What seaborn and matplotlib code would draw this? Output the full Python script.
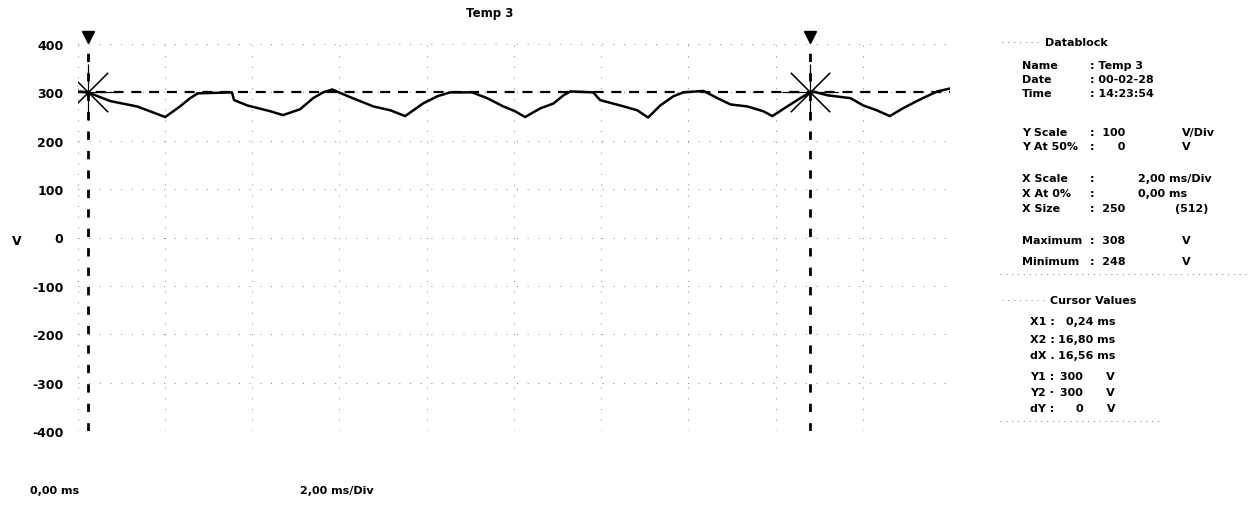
import numpy as np
import matplotlib.pyplot as plt
import pandas as pd
import seaborn as sns

# trace vertices (time in ms, voltage in V)
t_ms = [0.00, 0.24, 0.75, 1.36, 1.66, 2.01, 2.35, 2.58, 2.76, 3.54, 3.59, 3.89, 4.42, 4.71,
        5.10, 5.40, 5.63, 5.84, 6.20, 6.78, 7.17, 7.51, 7.92, 8.25, 8.54, 9.05, 9.39, 9.76,
        10.03, 10.26, 10.61, 10.91, 11.14, 11.30, 11.82, 11.98, 12.44, 12.83, 13.08, 13.36,
        13.66, 13.89, 14.35, 14.67, 14.97, 15.35, 15.72, 15.93, 16.27, 16.64, 16.85, 17.19,
        17.72, 18.01, 18.32, 18.62, 18.92, 19.24, 19.47, 19.71, 20.00]
volts = [302, 300, 282, 271, 261, 249, 271, 288, 298, 300, 284, 273, 261, 253,
         265, 288, 300, 306, 292, 271, 263, 251, 277, 292, 300, 300, 288, 271,
         261, 249, 267, 277, 294, 302, 300, 284, 273, 263, 248, 273,
         292, 300, 303, 288, 275, 271, 261, 251, 271, 292, 302, 294,
         288, 273, 263, 251, 267, 282, 292, 302, 308]

cursor_x = [0.24, 16.80]
cursor_y = 300
y_ticks = [400, 300, 200, 100, 0, -100, -200, -300, -400]
x_grid = list(range(0, 21, 2))

info_rows = [("Name", ": Temp 3", ""), ("Date", ": 00-02-28", ""), ("Time", ": 14:23:54", ""),
             ("Y Scale", ":  100", "V/Div"), ("Y At 50%", ":      0", "V"),
             ("X Scale", ":", "2,00 ms/Div"), ("X At 0%", ":", "0,00 ms"),
             ("X Size", ":  250", "(512)"),
             ("Maximum", ":  308", "V"), ("Minimum", ":  248", "V")]
cursor_rows = [("X1 :", "0,24 ms"), ("X2 :", "16,80 ms"), ("dX .", "16,56 ms"),
               ("Y1 :", "300      V"), ("Y2 ·", "300      V"), ("dY :", "0      V")]

sns.set_style("white")
plt.rcParams['font.family'] = ['DejaVu Sans']
plt.rcParams['text.color'] = 'black'
plt.rcParams['ytick.color'] = 'black'

W, H = 1248, 510
fig = plt.figure(figsize=(W / 100, H / 100), dpi=100)
ax = fig.add_axes([77.5 / W, 1 - 432 / H, (950 - 77.5) / W, (432 - 45) / H])

df = pd.DataFrame({"t": t_ms, "v": volts})
sns.lineplot(data=df, x="t", y="v", ax=ax, color="black", lw=1.8, sort=False)

ax.set_xlim(0, 20)
ax.set_ylim(-400, 400)
ax.set_xticks(x_grid)
ax.set_yticks(y_ticks)
ax.set_yticklabels([str(v) for v in y_ticks], fontweight="bold", fontsize=9)
ax.tick_params(axis="x", labelbottom=False, length=0)
ax.tick_params(axis="y", length=0, pad=10)
ax.set_xlabel("")
ax.set_ylabel("")
ax.grid(True, color="0.5", lw=0.7, ls=(0, (1, 10)))
for s in ax.spines.values():
    s.set_visible(False)

# cursors
for cx in cursor_x:
    ax.axvline(cx, color="black", lw=2, ls=(0, (3, 4)))
ax.axhline(cursor_y, color="black", lw=1.6, ls=(0, (4.5, 3.5)))
ax.plot(cursor_x, [cursor_y] * 2, ls="none", marker=(8, 2, 0), ms=40, mew=0.8, color="black")
ax.plot(cursor_x, [414, 414], ls="none", marker="v", ms=9, color="black", clip_on=False)


def px_text(x, y, s, **kw):
    kw.setdefault("fontweight", "bold")
    kw.setdefault("fontsize", 8)
    kw.setdefault("va", "center")
    fig.text(x / W, 1 - y / H, s, **kw)


def px_dots(x0, x1, y):
    fig.add_artist(plt.Line2D([x0 / W, x1 / W], [1 - y / H, 1 - y / H], color="0.45",
                              lw=0.7, ls=(0, (1, 5))))


px_text(490, 13, "Temp 3", ha="center", fontsize=8.5)
px_text(12, 242, "V", fontsize=9)
px_text(30, 491, "0,00 ms")
px_text(300, 491, "2,00 ms/Div")

# data block panel
px_dots(1002, 1040, 43)
px_text(1045, 43, "Datablock")
row_y = [66, 80, 94, 133, 147, 179, 194, 209, 241, 262]
for (lab, val, unit), yy in zip(info_rows, row_y):
    px_text(1022, yy, lab)
    px_text(1090, yy, val)
    if unit:
        px_text(1182 if unit in ("V", "V/Div") else (1175 if unit == "(512)" else 1138), yy, unit)
px_dots(1000, 1248, 275)

px_dots(1002, 1045, 301)
px_text(1050, 301, "Cursor Values")
cur_y = [322, 340, 356, 377, 393, 409]
for (lab, val), yy in zip(cursor_rows, cur_y):
    px_text(1030, yy, lab)
    px_text(1115, yy, val, ha="right")
px_dots(1000, 1160, 422)

fig.savefig("out.png", dpi=100)
